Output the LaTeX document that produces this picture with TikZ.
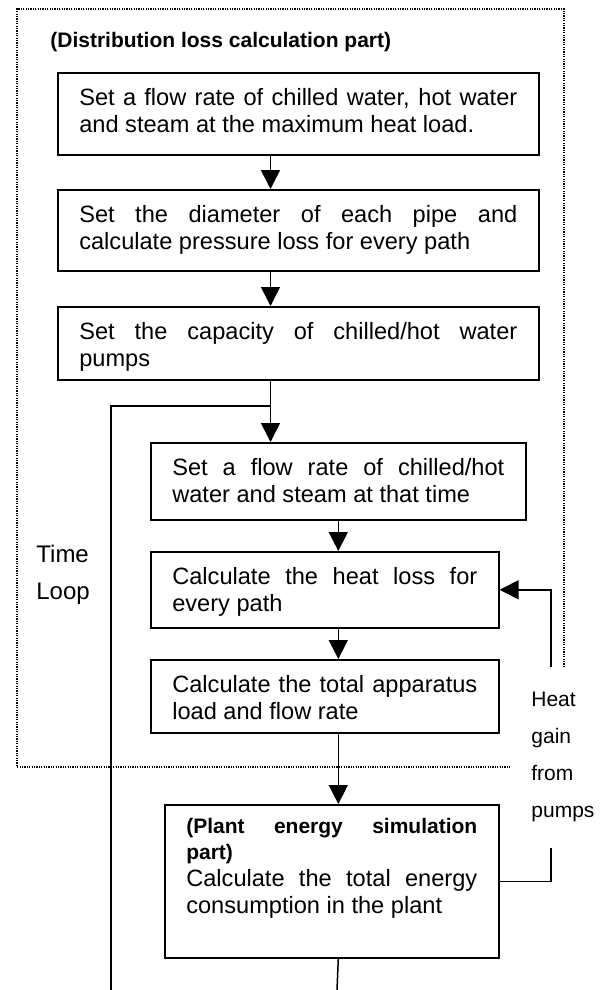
\documentclass[tikz,border=0pt]{standalone}
\usepackage{fontspec}
\setmainfont{Liberation Sans}
\usetikzlibrary{arrows.meta, positioning}
\hyphenpenalty=10000
\exhyphenpenalty=10000
\tolerance=9999

\begin{document}
\begin{tikzpicture}[x=0.5pt, y=-0.5pt,
  stepbox/.style={draw, line width=0.8pt, anchor=north west, text width=#1, align=justify,
    inner xsep=10.75pt, inner ysep=0pt, text height=16.5pt, font=\fontsize{11.8}{13.5}\selectfont},
  arr/.style={-{Triangle[length=9.5pt, width=9.5pt]}, line width=0.75pt},
  ln/.style={line width=0.75pt},
  partline/.style={line width=0.65pt, dash pattern=on 0.6pt off 0.6pt},
  lbl/.style={anchor=north west, inner sep=0pt, align=left},
]
  \useasboundingbox (0,0) rectangle (602,990);

  % distribution loss part
  \draw[partline] (564,667) -- (564,9) -- (17,9) -- (17,767) -- (511,767);
  \node[anchor=base west, inner sep=0pt, font=\bfseries\fontsize{10.5}{13}\selectfont] (parttitle) at (50,48) {(Distribution loss calculation part)};

  \node[stepbox=219pt, text depth=24.5pt] (maxload) at (57,72) {Set a flow rate of chilled water, hot water and steam at the maximum heat load.};
  \node[stepbox=219pt, text depth=24pt] (diameter) at (57,189) {Set the diameter of each pipe and calculate pressure loss for every path};
  \node[stepbox=219pt, text depth=20pt] (pumpcap) at (57,306) {Set the capacity of chilled/hot water\linebreak pumps};
  \node[stepbox=166pt, text depth=22pt] (flownow) at (150,442) {Set a flow rate of chilled/hot water and steam at that time};
  \node[stepbox=152.5pt, text depth=21.5pt] (heatloss) at (150,551) {Calculate the heat loss for every path};
  \node[stepbox=152.5pt, text depth=20pt] (totalload) at (150,659) {Calculate the total apparatus load and flow rate};

  % plant part
  \node[stepbox=145.5pt, text height=14.5pt, text depth=62pt] (plant) at (164,804) {{\bfseries\fontsize{10.5}{13}\selectfont (Plant energy simulation\linebreak part)\par}Calculate the total energy consumption in the plant};

  \node[lbl, font=\fontsize{12}{18.5}\selectfont] (timeloop) at (36,545) {Time\\Loop};
  \node[lbl, font=\fontsize{10.5}{18.5}\selectfont] (heatgain) at (531,692) {Heat\\gain\\from\\pumps};

  % main flow
  \coordinate (upx) at (270.5,0);
  \coordinate (join) at (270.5,406);
  \coordinate (loopend) at (111,990);
  \coordinate (plantend) at (337,990);
  \draw[arr] (maxload.south -| upx) -- (diameter.north -| upx);
  \draw[arr] (diameter.south -| upx) -- (pumpcap.north -| upx);
  \draw[arr] (pumpcap.south -| upx) -- (flownow.north -| upx);
  \draw[ln] (join) -- (join -| loopend) -- (loopend);
  \draw[arr] (flownow.south) -- (flownow.south |- heatloss.north);
  \draw[arr] (heatloss.south -| flownow.south) -- (totalload.north -| flownow.south);
  \draw[arr] (totalload.south -| flownow.south) -- (plant.north -| flownow.south);
  \draw[ln] (plant.south -| flownow.south) -- (plantend);

  % heat gain feedback
  \coordinate (gainlow) at (551,848);
  \coordinate (gainhigh) at (551,667);
  \draw[ln] (plant.east) -| (gainlow);
  \draw[arr] (gainhigh) |- (heatloss.east);
\end{tikzpicture}
\end{document}
